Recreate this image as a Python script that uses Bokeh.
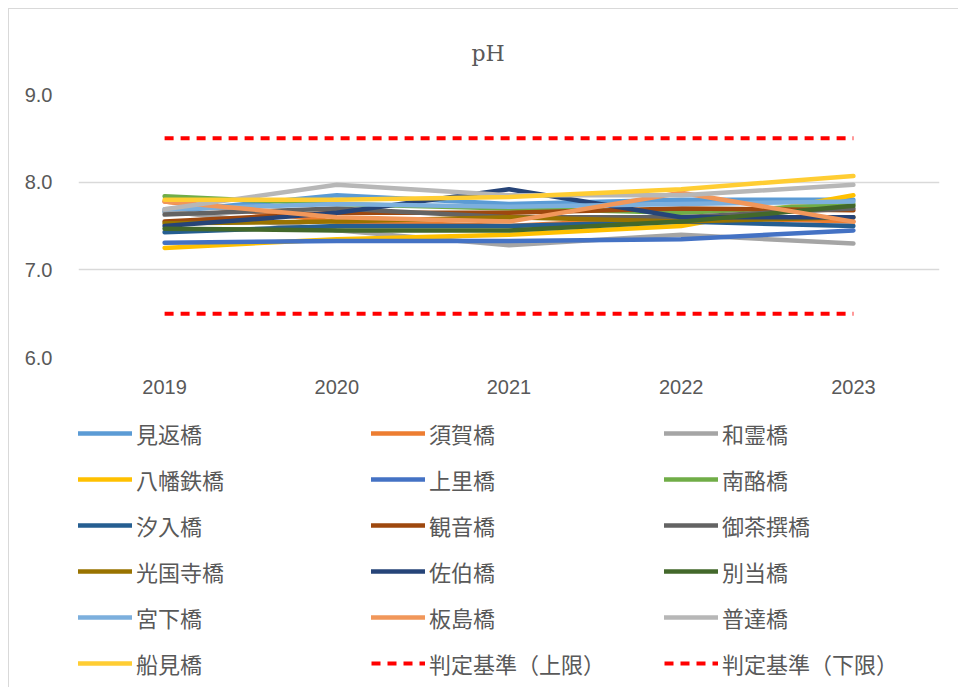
from bokeh.plotting import figure
from bokeh.layouts import column
from bokeh.models import Legend, LegendItem, FactorRange, Range1d, FixedTicker, Title, NumeralTickFormatter
from bokeh.embed import file_html
from bokeh.resources import INLINE

years = ["2019", "2020", "2021", "2022", "2023"]

names = ["見返橋", "須賀橋", "和霊橋", "八幡鉄橋", "上里橋", "南酪橋",
         "汐入橋", "観音橋", "御茶撰橋", "光国寺橋", "佐伯橋", "別当橋",
         "宮下橋", "板島橋", "普達橋", "船見橋"]
colors = ["#5B9BD5", "#ED7D31", "#A5A5A5", "#FFC000", "#4472C4", "#70AD47",
          "#255E91", "#9E480E", "#636363", "#997300", "#264478", "#43682B",
          "#7CAFDD", "#F1975A", "#B7B7B7", "#FFCD33"]

mikaeri   = [7.66, 7.85, 7.75, 7.80, 7.80]
suka      = [7.78, 7.55, 7.50, 7.60, 7.55]
warei     = [7.67, 7.45, 7.28, 7.40, 7.30]
yawata    = [7.25, 7.35, 7.40, 7.50, 7.85]
kamisato  = [7.31, 7.33, 7.33, 7.35, 7.45]
nanraku   = [7.84, 7.75, 7.70, 7.65, 7.75]
shioiri   = [7.43, 7.50, 7.50, 7.55, 7.50]
kannon    = [7.55, 7.65, 7.65, 7.70, 7.68]
ochasen   = [7.63, 7.70, 7.60, 7.60, 7.70]
kokokuji  = [7.53, 7.55, 7.60, 7.55, 7.60]
saeki     = [7.50, 7.65, 7.92, 7.60, 7.60]
betto     = [7.47, 7.45, 7.45, 7.55, 7.73]
miyashita = [7.69, 7.75, 7.72, 7.75, 7.78]
itajima   = [7.78, 7.60, 7.55, 7.88, 7.55]
futatsu   = [7.69, 7.97, 7.85, 7.85, 7.97]
funami    = [7.80, 7.80, 7.83, 7.92, 8.07]
series = [mikaeri, suka, warei, yawata, kamisato, nanraku, shioiri, kannon,
          ochasen, kokokuji, saeki, betto, miyashita, itajima, futatsu, funami]

upper_name = "判定基準（上限）"
lower_name = "判定基準（下限）"
upper = [8.5, 8.5, 8.5, 8.5, 8.5]
lower = [6.5, 6.5, 6.5, 6.5, 6.5]

y_ticks = [6.0, 7.0, 8.0, 9.0]

# ---- main chart ----
p = figure(width=949, height=400, x_range=FactorRange(*years), y_range=Range1d(6.0, 9.0),
           output_backend="svg", toolbar_location=None,
           min_border_left=66, min_border_right=19, min_border_top=84, min_border_bottom=52)
p.outline_line_color = None
p.background_fill_color = "white"
p.border_fill_color = "white"

p.title = Title(text="pH", align="left", offset=393, text_font="DejaVu Serif",
                text_font_size="22px", text_font_style="normal", text_color="#595959",
                standoff=58)

axis_font = "Liberation Sans Narrow, Liberation Sans, sans-serif"
p.yaxis.ticker = FixedTicker(ticks=y_ticks)
p.yaxis.formatter = NumeralTickFormatter(format="0.0")
for ax in (p.xaxis[0], p.yaxis[0]):
    ax.axis_line_color = None
    ax.major_tick_line_color = None
    ax.minor_tick_line_color = None
    ax.major_label_text_font = axis_font
    ax.major_label_text_font_size = "20px"
    ax.major_label_text_color = "#595959"
p.yaxis.major_label_standoff = 20
p.xaxis.major_label_standoff = 16
p.xgrid.grid_line_color = None
p.ygrid.ticker = FixedTicker(ticks=y_ticks)
p.ygrid.grid_line_color = "#d9d9d9"
p.ygrid.grid_line_width = 1.5

for col, vals in zip(colors, series):
    p.line(years, vals, line_color=col, line_width=4.5, line_cap="round", line_join="round")
p.line(years, upper, line_color="#FF0000", line_width=4, line_dash="9 7")
p.line(years, lower, line_color="#FF0000", line_width=4, line_dash="9 7")

# ---- legend panel (hidden proxy renderers carry the legend glyphs) ----
lf = figure(width=949, height=278, x_range=FactorRange(*years), y_range=Range1d(6.0, 9.0),
            output_backend="svg", toolbar_location=None,
            min_border_left=69, min_border_right=0, min_border_top=8, min_border_bottom=0)
lf.axis.visible = False
lf.grid.visible = False
lf.outline_line_color = None
lf.border_fill_color = "white"

items = []
for name, col, vals in zip(names, colors, series):
    r = lf.line(years, vals, line_color=col, line_width=4.5, line_cap="round", visible=False)
    items.append(LegendItem(label=name, renderers=[r]))
ru = lf.line(years, upper, line_color="#FF0000", line_width=4, line_dash="9 7", visible=False)
rl = lf.line(years, lower, line_color="#FF0000", line_width=4, line_dash="9 7", visible=False)
items.append(LegendItem(label=upper_name, renderers=[ru]))
items.append(LegendItem(label=lower_name, renderers=[rl]))

# column-major order so that the grid reads row by row
ordered = items[0::3] + items[1::3] + items[2::3]

legend = Legend(items=ordered, orientation="vertical", nrows=6, location="top_left",
                glyph_width=54, glyph_height=32, label_height=32, label_width=221,
                label_standoff=4, spacing=14, padding=0, margin=0,
                border_line_color=None, background_fill_alpha=0,
                inactive_fill_alpha=0, click_policy="none",
                label_text_font="Noto Sans CJK JP", label_text_font_size="22px",
                label_text_color="#595959")
lf.add_layout(legend, "center")

layout = column(p, lf, spacing=0, margin=(8, 0, 0, 8),
                styles={"border-left": "1px solid #d9d9d9", "border-top": "1px solid #d9d9d9"})

open("out.html", "w").write(file_html(layout, INLINE))
